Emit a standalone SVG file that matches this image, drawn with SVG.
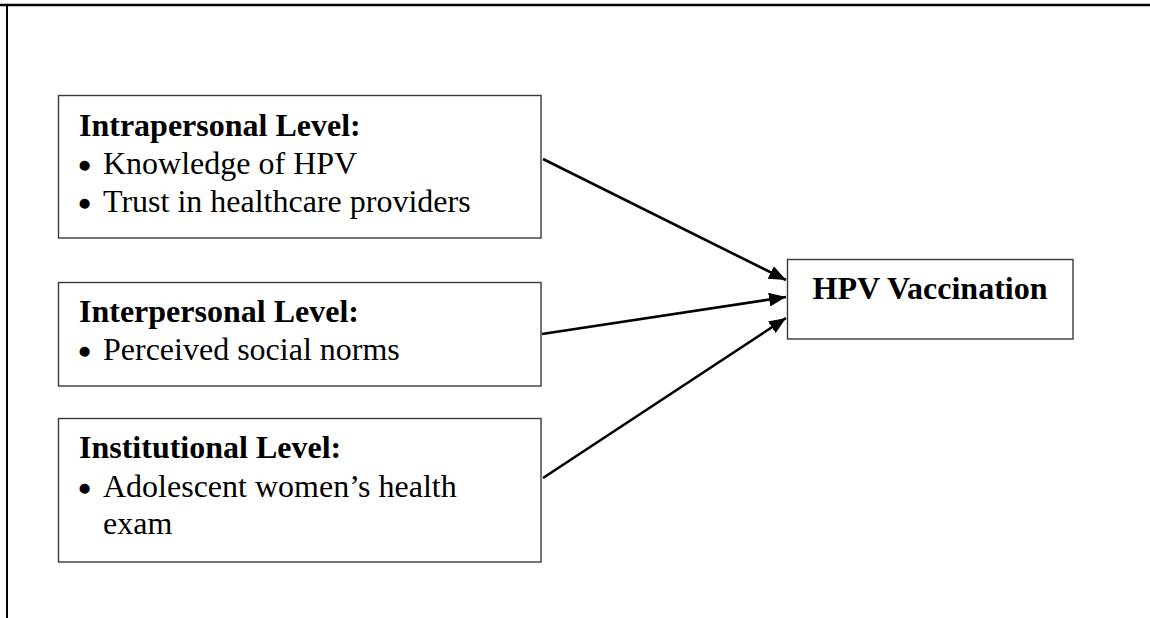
<svg xmlns="http://www.w3.org/2000/svg" width="1150" height="618" viewBox="0 0 1150 618">
<style>
.box{fill:#fff;stroke:#3a3a3a;stroke-width:1.4}
.h{font-family:"Liberation Serif","Times New Roman",serif;font-weight:bold;font-size:32px;fill:#000}
.t{font-family:"Liberation Serif","Times New Roman",serif;font-size:32px;fill:#000}
.b{font-family:"Liberation Sans",Arial,sans-serif;font-size:32px;fill:#000;stroke:#000;stroke-width:1.4}
.c{stroke:#000;stroke-width:2.6;fill:none}
.frame{stroke:#000;fill:none}
</style>
<defs>
<marker id="ah" markerUnits="userSpaceOnUse" markerWidth="18" markerHeight="14" refX="17" refY="7" orient="auto">
<path d="M0,0 L17,7 L0,14 z" fill="#000"/>
</marker>
</defs>
<rect width="1150" height="618" fill="#fff"/>
<g id="frame">
<line class="frame" x1="0" y1="5" x2="1150" y2="5" stroke-width="2.6"/>
<line class="frame" x1="7" y1="5" x2="7" y2="618" stroke-width="2"/>
</g>
<g id="intrapersonal">
<rect class="box" x="58.5" y="95.5" width="482.5" height="142.5"/>
<text class="h" x="79" y="136">Intrapersonal Level:</text>
<text class="b" x="79" y="176">•</text><text class="t" x="103" y="174">Knowledge of HPV</text>
<text class="b" x="79" y="214">•</text><text class="t" x="103" y="212">Trust in healthcare providers</text>
</g>
<g id="interpersonal">
<rect class="box" x="58.5" y="282.5" width="482.5" height="103.5"/>
<text class="h" x="79" y="322">Interpersonal Level:</text>
<text class="b" x="79" y="362">•</text><text class="t" x="103" y="360">Perceived social norms</text>
</g>
<g id="institutional">
<rect class="box" x="58.5" y="418.5" width="482.5" height="143.5"/>
<text class="h" x="79" y="458">Institutional Level:</text>
<text class="b" x="79" y="499">•</text><text class="t" x="103" y="497">Adolescent women’s health</text>
<text class="t" x="103" y="534">exam</text>
</g>
<g id="hpv">
<rect class="box" x="787.5" y="259.5" width="285.5" height="79.5"/>
<text class="h" x="930" y="299" text-anchor="middle">HPV Vaccination</text>
</g>
<g id="connectors">
<line class="c" x1="543" y1="159" x2="786" y2="280" marker-end="url(#ah)"/>
<line class="c" x1="542" y1="334" x2="786" y2="297" marker-end="url(#ah)"/>
<line class="c" x1="543" y1="478" x2="786" y2="318" marker-end="url(#ah)"/>
</g>
</svg>
